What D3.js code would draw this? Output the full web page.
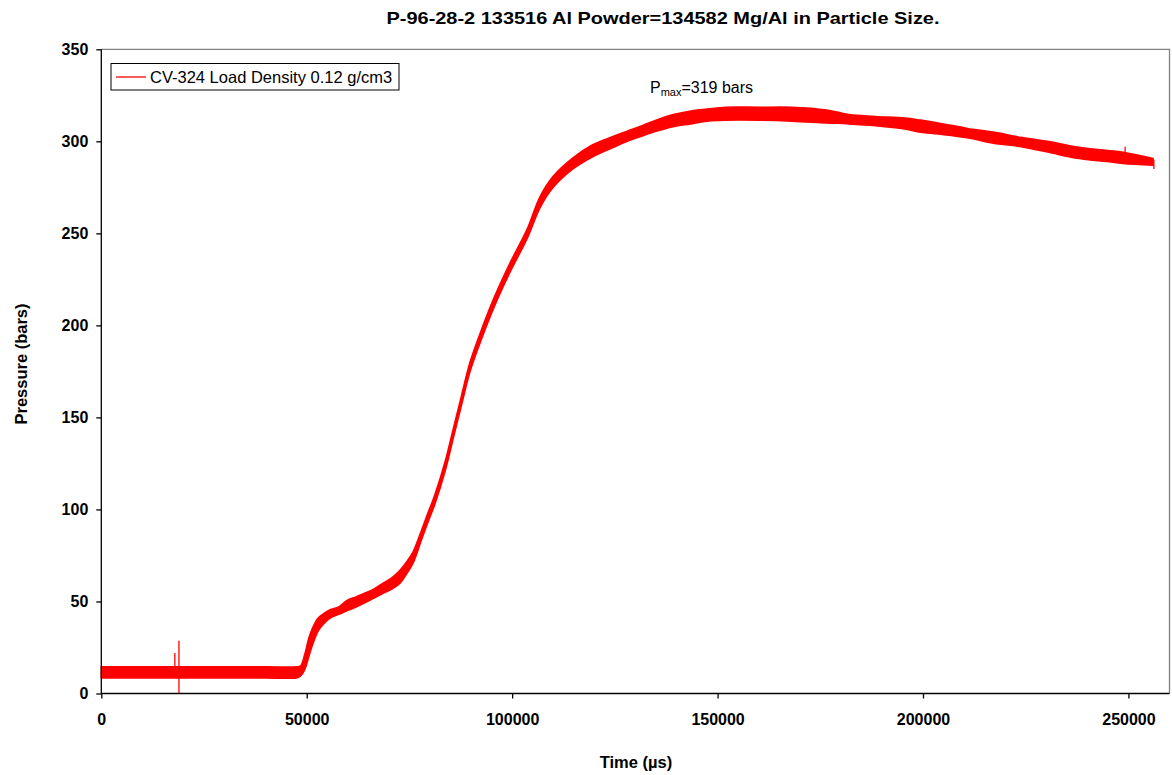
<!DOCTYPE html>
<html>
<head>
<meta charset="utf-8">
<script src="https://cdn.jsdelivr.net/npm/d3@7"></script>
<style>
  html, body { margin: 0; padding: 0; background: #fff; }
  svg { display: block; font-family: "Liberation Sans", Arial, sans-serif; }
</style>
</head>
<body>
<svg id="chart" width="1172" height="775"></svg>
<script>
// Pressure trace, stored as the upper and lower edge of the noisy signal band
const timeUs = [0, 10000, 20000, 30000, 40000, 47500, 48500, 49500, 50500, 51500, 52800, 54200, 55700, 57800,
  59800, 62000, 64700, 66500, 68600, 70500, 72700, 74300, 75900, 78000,
  79500, 81200, 83700, 85700, 87700, 89750, 92600, 95800, 99500, 103600,
  106800, 110000, 114800, 119500, 124400, 128000, 131100, 135000, 139200, 143500,
  147500, 152000, 160000, 168000, 176600, 182000, 188400, 195600, 199400, 203700,
  210800, 217100, 224200, 231400, 237000, 244800, 248700, 256000];
const pressureLow = [8.5, 8.5, 8.5, 8.5, 8.5, 8.5, 9.5, 13, 20, 27, 34, 38, 41, 43,
  45, 47, 50, 52, 54.5, 56.5, 60, 65, 71, 84,
  93, 103, 121, 139, 157, 175, 193, 211, 229, 247,
  264, 275, 285, 291.5, 296.5, 300, 302.5, 305.5, 308, 309.5,
  311, 311.5, 311.5, 311, 310, 309.5, 308.5, 306.7, 305, 304,
  302, 299, 297, 293.7, 291, 289, 288, 287];
const pressureHigh = [14.5, 14.5, 14.5, 14.5, 14.5, 14.5, 15, 21, 30, 36, 41, 43.5, 45.5, 47,
  50.5, 52.5, 55, 57, 60, 62.5, 67, 71.5, 77, 89,
  98, 108, 126, 144, 162, 180, 198, 216, 234, 252,
  270, 281, 291, 298, 302.5, 305.5, 308, 311.5, 314.5, 316.5,
  317.5, 318.5, 318.5, 318.5, 317, 314.5, 313.5, 312.6, 311.5, 310,
  307, 305, 302, 299.6, 297, 295, 294, 290.6];

// Isolated spikes in the record
const spikeTime = [17900, 18900, 249200, 256200];
const spikeFrom = [11, 0, 293, 285];
const spikeTo = [22, 28.7, 297, 290];

// Axis ticks
const xTicks = [0, 50000, 100000, 150000, 200000, 250000];
const yTicks = [0, 50, 100, 150, 200, 250, 300, 350];

const titleText = "P-96-28-2 133516 Al Powder=134582 Mg/Al in Particle Size.";
const seriesName = "CV-324 Load Density 0.12 g/cm3";
const peakValue = 319;

const svg = d3.select("#chart");
const plotL = 101.3, plotR = 1169.5, plotT = 49.3, plotB = 693.5;

const x = d3.scaleLinear().domain([0, 260000]).range([plotL, plotR]);
const y = d3.scaleLinear().domain([0, 350]).range([plotB, plotT]);

const red = "#ff0000";

// Plot frame: grey top and right edges
svg.append("path")
  .attr("d", `M${plotL},${plotT}H${plotR}V${plotB}`)
  .attr("fill", "none").attr("stroke", "#808080").attr("stroke-width", 1.3);

// Signal band
const band = timeUs.map((t, i) => ({ t, lo: pressureLow[i], hi: pressureHigh[i] }));
svg.append("path")
  .datum(band)
  .attr("d", d3.area()
    .x(d => x(d.t)).y0(d => y(d.lo)).y1(d => y(d.hi))
    .curve(d3.curveCatmullRom.alpha(0.5)))
  .attr("fill", red)
  .attr("stroke", red)
  .attr("stroke-width", 1.6)
  .attr("stroke-linejoin", "round");

svg.append("g").selectAll("line")
  .data(spikeTime.map((t, i) => ({ t, a: spikeFrom[i], b: spikeTo[i] })))
  .join("line")
  .attr("x1", d => x(d.t)).attr("x2", d => x(d.t))
  .attr("y1", d => y(d.a)).attr("y2", d => y(d.b))
  .attr("stroke", red).attr("stroke-width", 1.3);

// Axes
const xAxis = d3.axisBottom(x).tickValues(xTicks).tickSize(5).tickPadding(15)
  .tickFormat(d3.format("d"));
const yAxis = d3.axisLeft(y).tickValues(yTicks).tickSize(5).tickPadding(8)
  .tickFormat(d3.format("d"));

const gx = svg.append("g").attr("transform", `translate(0,${plotB})`).call(xAxis);
const gy = svg.append("g").attr("transform", `translate(${plotL},0)`).call(yAxis);
[gx, gy].forEach(g => {
  g.select(".domain").attr("stroke", "#000").attr("stroke-width", 1.3);
  g.selectAll(".tick line").attr("stroke", "#000").attr("stroke-width", 1.3);
  g.selectAll(".tick text")
    .attr("font-family", "'Liberation Sans', Arial, sans-serif")
    .attr("font-size", 16).attr("font-weight", "bold").attr("fill", "#000");
});
gx.select(".domain").attr("d", `M${plotL},0H${plotR}`);
gy.select(".domain").attr("d", `M0,${plotB}V${plotT}`);

// Title and axis titles
svg.append("text")
  .attr("x", 663).attr("y", 24)
  .attr("text-anchor", "middle")
  .attr("font-size", 17).attr("font-weight", "bold")
  .attr("textLength", 553).attr("lengthAdjust", "spacingAndGlyphs")
  .text(titleText);

svg.append("text")
  .attr("transform", "translate(27,364) rotate(-90)")
  .attr("text-anchor", "middle")
  .attr("font-size", 16.5).attr("font-weight", "bold")
  .text("Pressure (bars)");

svg.append("text")
  .attr("x", 636).attr("y", 768)
  .attr("text-anchor", "middle")
  .attr("font-size", 16.5).attr("font-weight", "bold")
  .text("Time (µs)");

// Legend
const lg = svg.append("g");
lg.append("rect")
  .attr("x", 111).attr("y", 63.5).attr("width", 288).attr("height", 26.5)
  .attr("fill", "#fff").attr("stroke", "#000").attr("stroke-width", 1);
lg.append("line")
  .attr("x1", 116).attr("x2", 146).attr("y1", 77).attr("y2", 77)
  .attr("stroke", red).attr("stroke-width", 1.3);
lg.append("text")
  .attr("x", 150).attr("y", 83)
  .attr("font-size", 16.5)
  .text(seriesName);

// Peak pressure note
const note = svg.append("text")
  .attr("x", 650).attr("y", 93)
  .attr("font-size", 16);
note.append("tspan").text("P");
note.append("tspan").attr("font-size", 11).attr("dy", 3).text("max");
note.append("tspan").attr("dy", -3).text(`=${peakValue} bars`);
</script>
</body>
</html>
